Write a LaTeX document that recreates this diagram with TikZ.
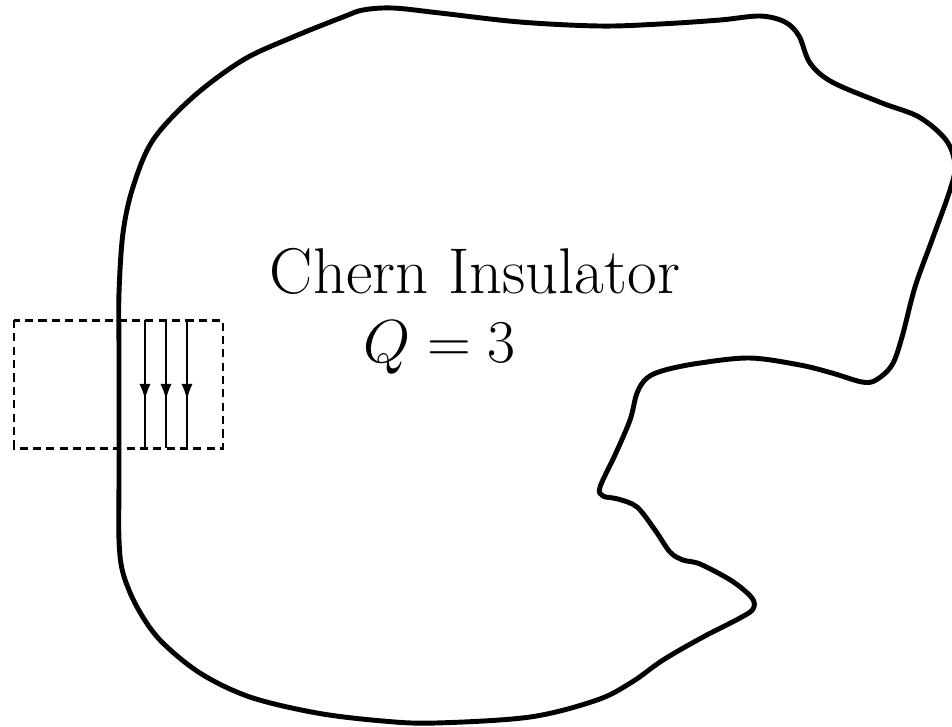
\documentclass[tikz,border=0pt]{standalone}
\usepackage{amsmath,amssymb}
\usetikzlibrary{arrows.meta,decorations.markings}

\begin{document}
\begin{tikzpicture}[
    x=0.01cm, y=-0.01cm,
    rim/.style={line width=1.4pt, line join=round},
    cut/.style={line width=0.85pt, dash pattern=on 2.3pt off 1.5pt},
    flux/.style={line width=0.45pt, postaction={decorate},
        decoration={markings, mark=at position 0.62 with {\arrow{Latex[length=4.4pt,width=3.2pt]}}}},
    lbl/.style={anchor=base, inner sep=0pt}
]
\useasboundingbox (0,0) rectangle (952,726);

\draw[rim] plot[smooth cycle, tension=0.55] coordinates {
    (119,350) (119,420) (119,480) (119,540) (123,573) (137,607) (160,640)
    (200,673) (250,697) (317,713) (383,721) (435,723) (530,717) (597,700)
    (632,682) (663,660) (703,637) (740,618) (753,609) (752,598) (732,581)
    (700,564) (683,560) (670,552) (655,530) (637,507) (618,499) (603,496)
    (600,487) (615,455) (630,420) (637,393) (647,378) (665,370) (700,363)
    (750,358) (800,365) (832,373) (862,382) (876,380) (892,365) (902,337)
    (915,287) (932,240) (950,190) (955,165) (946,140) (919,117) (882,103)
    (832,82) (810,63) (799,36) (785,22) (760,16) (720,20) (660,24)
    (600,26) (520,22) (440,13) (393,8) (363,10) (343,17) (293,37)
    (243,60) (193,97) (153,140) (133,187) (123,233) (119,293)};

\node[lbl, font=\fontsize{18.4}{22}\selectfont] (title) at (475,293) {Chern Insulator};
\node[lbl, font=\fontsize{17.5}{21}\selectfont] (charge) at (439.5,362) {$Q = 3$};

\draw[cut] (14,320) rectangle (223,448);

\coordinate (a1) at (145,320); \coordinate (b1) at (145,448);
\coordinate (a2) at (166,320); \coordinate (b2) at (166,448);
\coordinate (a3) at (187,320); \coordinate (b3) at (187,448);

\draw[flux] (a1) -- (b1);
\draw[flux] (a2) -- (b2);
\draw[flux] (a3) -- (b3);
\end{tikzpicture}
\end{document}
